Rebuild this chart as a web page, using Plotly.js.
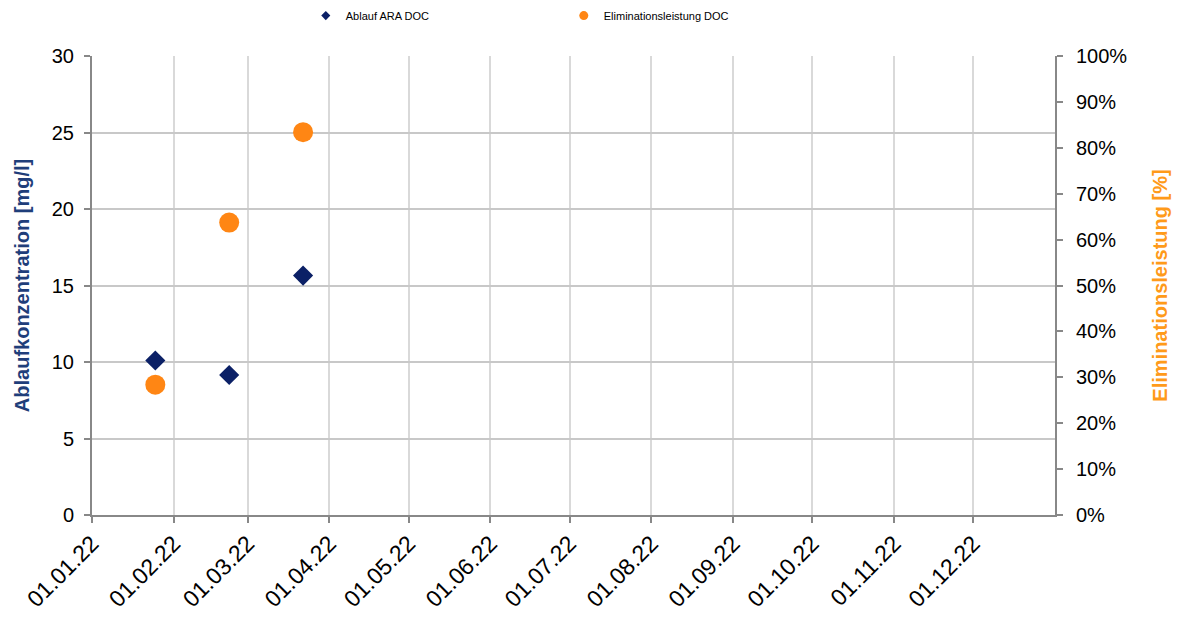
<!DOCTYPE html>
<html>
<head>
<meta charset="utf-8">
<script src="https://cdn.plot.ly/plotly-3.0.1.min.js"></script>
<style>html,body{margin:0;padding:0;background:#fff}#chart{width:1184px;height:617px}</style>
</head>
<body>
<div id="chart"></div>
<script>
const dates = ['2022-01-25', '2022-02-22', '2022-03-22'];
const ablaufDOC = [10.1, 9.15, 15.65];
const elimDOC = [0.284, 0.637, 0.834];
const seriesNames = ['Ablauf ARA DOC', 'Eliminationsleistung DOC'];
const tickDates = ['2022-01-01','2022-02-01','2022-03-01','2022-04-01','2022-05-01','2022-06-01','2022-07-01','2022-08-01','2022-09-01','2022-10-01','2022-11-01','2022-12-01'];
const tickLabels = ['01.01.22','01.02.22','01.03.22','01.04.22','01.05.22','01.06.22','01.07.22','01.08.22','01.09.22','01.10.22','01.11.22','01.12.22'];

const font = 'Liberation Sans, Arial, sans-serif';
const navy = '#0B2066', orange = '#FF8614';
const traces = [
  {x: dates, y: ablaufDOC, type: 'scatter', mode: 'markers', name: seriesNames[0], showlegend: false,
   marker: {symbol: 'diamond', size: 15.5, color: navy}, yaxis: 'y'},
  {x: dates, y: elimDOC, type: 'scatter', mode: 'markers', name: seriesNames[1], showlegend: false,
   marker: {symbol: 'circle', size: 20, color: orange}, yaxis: 'y2'},
  // legend entries (small symbols as in the reference legend)
  {x: [null], y: [null], type: 'scatter', mode: 'markers', name: seriesNames[0],
   marker: {symbol: 'diamond', size: 7, color: navy}, yaxis: 'y'},
  {x: [null], y: [null], type: 'scatter', mode: 'markers', name: seriesNames[1],
   marker: {symbol: 'circle', size: 9, color: orange}, yaxis: 'y2'}
];
const layout = {
  width: 1184, height: 617,
  margin: {l: 92, r: 129, t: 56, b: 102, autoexpand: false},
  paper_bgcolor: '#fff', plot_bgcolor: '#fff',
  font: {family: font, size: 20, color: '#000'},
  showlegend: true,
  legend: {orientation: 'h', x: 0.222, xanchor: 'left', y: 1.088, yanchor: 'middle',
           font: {family: font, size: 11, color: '#000'}, entrywidth: 213, entrywidthmode: 'pixels',
           itemwidth: 30, bgcolor: 'rgba(0,0,0,0)'},
  xaxis: {type: 'date', range: ['2022-01-01', '2023-01-01'], tickmode: 'array',
          tickvals: tickDates, ticktext: tickLabels, tickangle: -45,
          showgrid: true, gridcolor: '#D9D9D9', gridwidth: 2,
          showline: true, linecolor: '#888', linewidth: 2,
          ticks: 'outside', ticklen: 6, tickwidth: 2, tickcolor: '#888', ticklabelstandoff: -2,
          tickfont: {family: font, size: 23, color: '#000'}, zeroline: false, fixedrange: true},
  yaxis: {range: [0, 30], dtick: 5, tick0: 0, showgrid: true, gridcolor: '#C8C8C8', gridwidth: 2,
          showline: true, linecolor: '#888', linewidth: 2, zeroline: false,
          ticks: 'outside', ticklen: 6, tickwidth: 2, tickcolor: '#888', ticklabelstandoff: 6,
          tickfont: {family: font, size: 20, color: '#000'},
          title: {text: 'Ablaufkonzentration [mg/l]', font: {family: font, size: 20, color: '#1F3E7A', weight: 'bold'}, standoff: 17}},
  yaxis2: {range: [0, 1], dtick: 0.1, tick0: 0, tickformat: '.0%', overlaying: 'y', side: 'right',
           showgrid: false, showline: true, linecolor: '#888', linewidth: 2, zeroline: false,
           ticks: 'outside', ticklen: 6, tickwidth: 2, tickcolor: '#888', ticklabelstandoff: 9,
           tickfont: {family: font, size: 20, color: '#000'},
           title: {text: 'Eliminationsleistung [%]', font: {family: font, size: 20, color: '#FF9A1A', weight: 'bold'}, standoff: 27}}
};
Plotly.newPlot('chart', traces, layout, {displayModeBar: false, staticPlot: true});
</script>
</body>
</html>
